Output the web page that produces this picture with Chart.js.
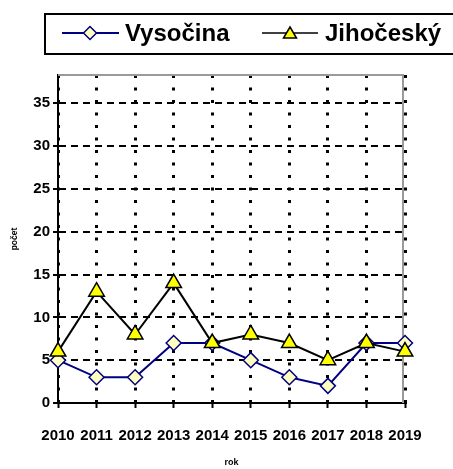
<!DOCTYPE html>
<html>
<head>
<meta charset="utf-8">
<script src="https://cdn.jsdelivr.net/npm/chart.js@4/dist/chart.umd.min.js"></script>
<style>
  html, body { margin: 0; padding: 0; background: #fff; }
  #wrap { width: 453px; height: 469px; position: relative; }
</style>
</head>
<body>
<div id="wrap"><canvas id="lineChart"></canvas></div>
<script>
// data
const years = ['2010', '2011', '2012', '2013', '2014', '2015', '2016', '2017', '2018', '2019'];
const vysocina = [5, 3, 3, 7, 7, 5, 3, 2, 7, 7];
const jihocesky = [6, 13, 8, 14, 7, 8, 7, 5, 7, 6];
const yMax = 38.3;
const yStep = 5;

const FONT = '"Liberation Sans", Arial, sans-serif';

// gray frame on top / right of plot area
const plotFrame = {
    id: 'plotFrame',
    beforeDatasetsDraw(chart) {
        const { ctx, chartArea: a } = chart;
        ctx.save();
        ctx.strokeStyle = '#9a9a9a';
        ctx.lineWidth = 2;
        ctx.beginPath();
        ctx.moveTo(a.left, a.top);
        ctx.lineTo(a.right - 2, a.top);
        ctx.lineTo(a.right - 2, a.bottom);
        ctx.stroke();
        ctx.restore();
    }
};

// boxed legend at the top, drawn by hand
const boxLegend = {
    id: 'boxLegend',
    afterDraw(chart) {
        const ctx = chart.ctx;
        ctx.save();
        ctx.lineWidth = 2;
        ctx.strokeStyle = '#000';
        ctx.strokeRect(45, 14, 430, 40);

        const y = 33;
        // Vysočina sample
        ctx.strokeStyle = '#000080';
        ctx.lineWidth = 2;
        ctx.beginPath();
        ctx.moveTo(62, y); ctx.lineTo(119, y);
        ctx.stroke();
        ctx.beginPath();
        ctx.moveTo(90, y - 6.5); ctx.lineTo(96.5, y); ctx.lineTo(90, y + 6.5); ctx.lineTo(83.5, y);
        ctx.closePath();
        ctx.fillStyle = '#FFFFC0';
        ctx.fill();
        ctx.lineWidth = 1.5;
        ctx.stroke();

        // Jihočeský sample
        ctx.strokeStyle = '#000';
        ctx.lineWidth = 1.5;
        ctx.beginPath();
        ctx.moveTo(262, y); ctx.lineTo(318, y);
        ctx.stroke();
        ctx.beginPath();
        ctx.moveTo(290, y - 6); ctx.lineTo(296.5, y + 5); ctx.lineTo(283.5, y + 5);
        ctx.closePath();
        ctx.fillStyle = '#FFFF00';
        ctx.fill();
        ctx.stroke();

        ctx.fillStyle = '#000';
        ctx.font = 'bold 24px ' + FONT;
        ctx.textBaseline = 'alphabetic';
        ctx.fillText('Vysočina', 125, 41);
        ctx.fillText('Jihočeský', 325, 41);
        ctx.restore();
    }
};

new Chart(document.getElementById('lineChart'), {
    type: 'line',
    data: {
        labels: years,
        datasets: [
            {
                label: 'Vysočina',
                data: vysocina,
                borderColor: '#000080',
                borderWidth: 2,
                pointStyle: 'rectRot',
                pointRadius: 7.5,
                pointBackgroundColor: '#FFFFC0',
                pointBorderColor: '#000080',
                pointBorderWidth: 1.5,
                tension: 0,
                clip: false,
                order: 2
            },
            {
                label: 'Jihočeský',
                data: jihocesky,
                borderColor: '#000',
                borderWidth: 2,
                pointStyle: 'triangle',
                pointRadius: 9,
                pointBackgroundColor: '#FFFF00',
                pointBorderColor: '#000',
                pointBorderWidth: 1.5,
                tension: 0,
                clip: false,
                order: 1
            }
        ]
    },
    plugins: [plotFrame, boxLegend],
    options: {
        responsive: true,
        maintainAspectRatio: false,
        animation: false,
        layout: {
            padding: { top: 75, right: 48, left: 0, bottom: 0 }
        },
        font: { family: FONT },
        scales: {
            x: {
                offset: false,
                grid: {
                    color: '#000',
                    lineWidth: 3,
                    tickLength: 5,
                    tickColor: '#000',
                    tickWidth: 2,
                    tickBorderDash: [10, 0]
                },
                border: { color: '#000', width: 2, dash: [3, 9.5] },
                ticks: {
                    color: '#000',
                    font: { family: FONT, size: 15, weight: 'bold' },
                    padding: 19,
                    maxRotation: 0,
                    autoSkip: false
                },
                title: {
                    display: true,
                    text: 'rok',
                    color: '#000',
                    font: { family: FONT, size: 9, weight: 'bold' },
                    padding: { top: 0, bottom: 1 }
                },
                afterFit(scale) { scale.height = 66; }
            },
            y: {
                min: 0,
                max: yMax,
                afterBuildTicks(scale) {
                    scale.ticks = scale.ticks.filter(t => t.value % yStep === 0);
                },
                grid: {
                    color: '#000',
                    lineWidth: 2,
                    tickLength: 5,
                    tickColor: '#000',
                    tickWidth: 2,
                    tickBorderDash: [10, 0]
                },
                border: { color: '#000', width: 2, dash: [7, 5] },
                ticks: {
                    stepSize: yStep,
                    color: '#000',
                    font: { family: FONT, size: 15, weight: 'bold' },
                    padding: 3
                },
                title: {
                    display: true,
                    text: 'počet',
                    color: '#000',
                    font: { family: FONT, size: 8.5, weight: 'bold' },
                    padding: { top: 10, bottom: 0 }
                },
                afterFit(scale) { scale.width = 58; }
            }
        },
        plugins: {
            legend: { display: false },
            tooltip: { enabled: false }
        }
    }
});
</script>
</body>
</html>
